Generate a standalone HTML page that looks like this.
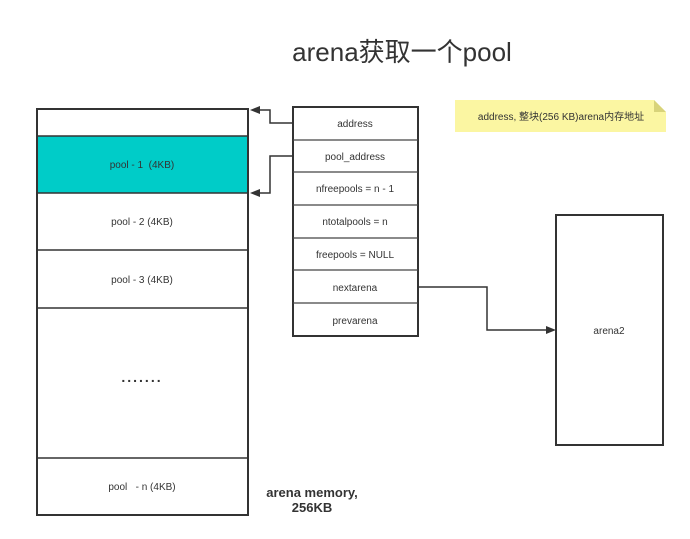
<!DOCTYPE html>
<html><head><meta charset="utf-8"><style>
html,body{margin:0;padding:0;background:#fff;width:690px;height:539px;overflow:hidden}
svg{display:block}
text{font-family:"Liberation Sans","Noto Sans CJK SC",sans-serif;fill:#333}
</style></head><body>
<svg width="690" height="539" viewBox="0 0 690 539" xmlns="http://www.w3.org/2000/svg">
<text x="402" y="61" font-size="26" text-anchor="middle" fill="#333">arena获取一个pool</text>
<rect x="37" y="136" width="211" height="57" fill="#00CCC8"/>
<rect x="37" y="109" width="211" height="406" fill="none" stroke="#333" stroke-width="2"/>
<g stroke="#333" stroke-width="1.5">
<line x1="37" y1="136" x2="248" y2="136"/>
<line x1="37" y1="193" x2="248" y2="193"/>
<line x1="37" y1="250" x2="248" y2="250"/>
<line x1="37" y1="308" x2="248" y2="308"/>
<line x1="37" y1="458" x2="248" y2="458"/>
</g>
<g font-size="10" text-anchor="middle">
<text x="142" y="168" xml:space="preserve">pool - 1  (4KB)</text>
<text x="142" y="225">pool - 2 (4KB)</text>
<text x="142" y="283">pool - 3 (4KB)</text>
<text x="142" y="382" font-size="14" font-weight="bold" letter-spacing="2">.......</text>
<text x="142" y="490" xml:space="preserve">pool   - n (4KB)</text>
</g>
<text x="312" y="497" font-size="13" font-weight="bold" text-anchor="middle">arena memory,</text>
<text x="312" y="512" font-size="13" font-weight="bold" text-anchor="middle">256KB</text>
<rect x="293" y="107" width="125" height="229" fill="#fff" stroke="#333" stroke-width="2"/>
<g stroke="#444" stroke-width="1.2">
<line x1="293" y1="140" x2="418" y2="140"/>
<line x1="293" y1="172" x2="418" y2="172"/>
<line x1="293" y1="205" x2="418" y2="205"/>
<line x1="293" y1="238" x2="418" y2="238"/>
<line x1="293" y1="270" x2="418" y2="270"/>
<line x1="293" y1="303" x2="418" y2="303"/>
</g>
<g font-size="10" text-anchor="middle">
<text x="355" y="127">address</text>
<text x="355" y="160">pool_address</text>
<text x="355" y="192">nfreepools = n - 1</text>
<text x="355" y="225">ntotalpools = n</text>
<text x="355" y="258">freepools = NULL</text>
<text x="355" y="291">nextarena</text>
<text x="355" y="324">prevarena</text>
</g>
<g fill="none" stroke="#333" stroke-width="1.5">
<polyline points="293,123 270,123 270,110 258,110"/>
<polyline points="293,156 270,156 270,193 258,193"/>
<polyline points="418,287 487,287 487,330 548,330"/>
</g>
<g fill="#333">
<polygon points="250,110 260,106 260,114"/>
<polygon points="250,193 260,189 260,197"/>
<polygon points="556,330 546,326 546,334"/>
</g>
<rect x="556" y="215" width="107" height="230" fill="#fff" stroke="#333" stroke-width="2"/>
<text x="609" y="334" font-size="10" text-anchor="middle">arena2</text>
<polygon points="455,100 654,100 666,112 666,132 455,132" fill="#FBF6A2"/>
<polygon points="654,100 666,112 654,112" fill="#D8D37A"/>
<text x="561" y="120" font-size="10" text-anchor="middle">address, 整块(256 KB)arena内存地址</text>
</svg>
</body></html>
